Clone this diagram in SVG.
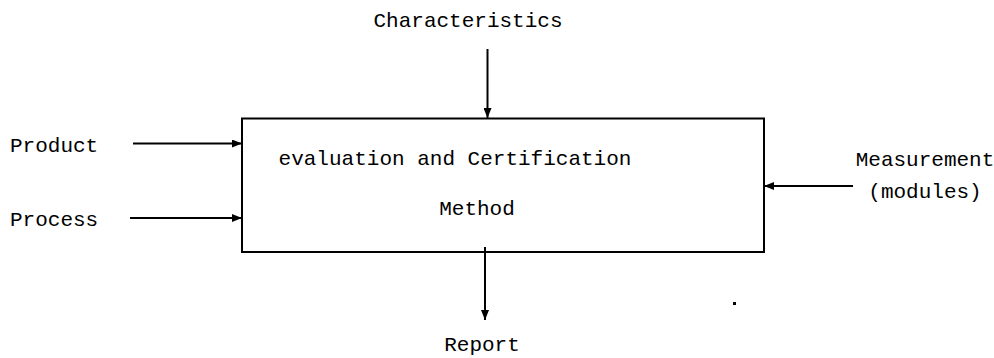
<svg xmlns="http://www.w3.org/2000/svg" width="994" height="358" viewBox="0 0 994 358">
<style>
text { font-family: "Liberation Mono", "DejaVu Sans Mono", monospace; font-size: 21px; fill: #000; }
.edge { stroke: #000; stroke-width: 2; fill: none; marker-end: url(#ah); }
.box { stroke: #000; stroke-width: 2; fill: #fff; }
</style>
<defs>
<marker id="ah" markerUnits="userSpaceOnUse" markerWidth="11" markerHeight="8" refX="10" refY="4" orient="auto">
<path d="M0,0 L10,4 L0,8 Z" fill="#000"/>
</marker>
</defs>
<g id="method">
<rect class="box" x="242" y="118.5" width="522" height="133.5"/>
<text x="455" y="165" text-anchor="middle">evaluation and Certification</text>
<text x="477" y="215" text-anchor="middle">Method</text>
</g>
<g id="characteristics"><text x="468" y="27" text-anchor="middle">Characteristics</text></g>
<g id="product"><text x="10" y="152">Product</text></g>
<g id="process"><text x="10" y="226">Process</text></g>
<g id="measurement">
<text x="925" y="166" text-anchor="middle">Measurement</text>
<text x="925" y="198" text-anchor="middle">(modules)</text>
</g>
<g id="report"><text x="482" y="351" text-anchor="middle">Report</text></g>
<g id="connectors">
<line class="edge" x1="487.5" y1="49" x2="487.5" y2="118"/>
<line class="edge" x1="133" y1="143.5" x2="242" y2="143.5"/>
<line class="edge" x1="130" y1="218" x2="242" y2="218"/>
<line class="edge" x1="853" y1="186" x2="764" y2="186"/>
<line class="edge" x1="485" y1="247" x2="485" y2="320"/>
</g>
<rect x="733" y="302" width="3" height="3" fill="#000"/>
</svg>
